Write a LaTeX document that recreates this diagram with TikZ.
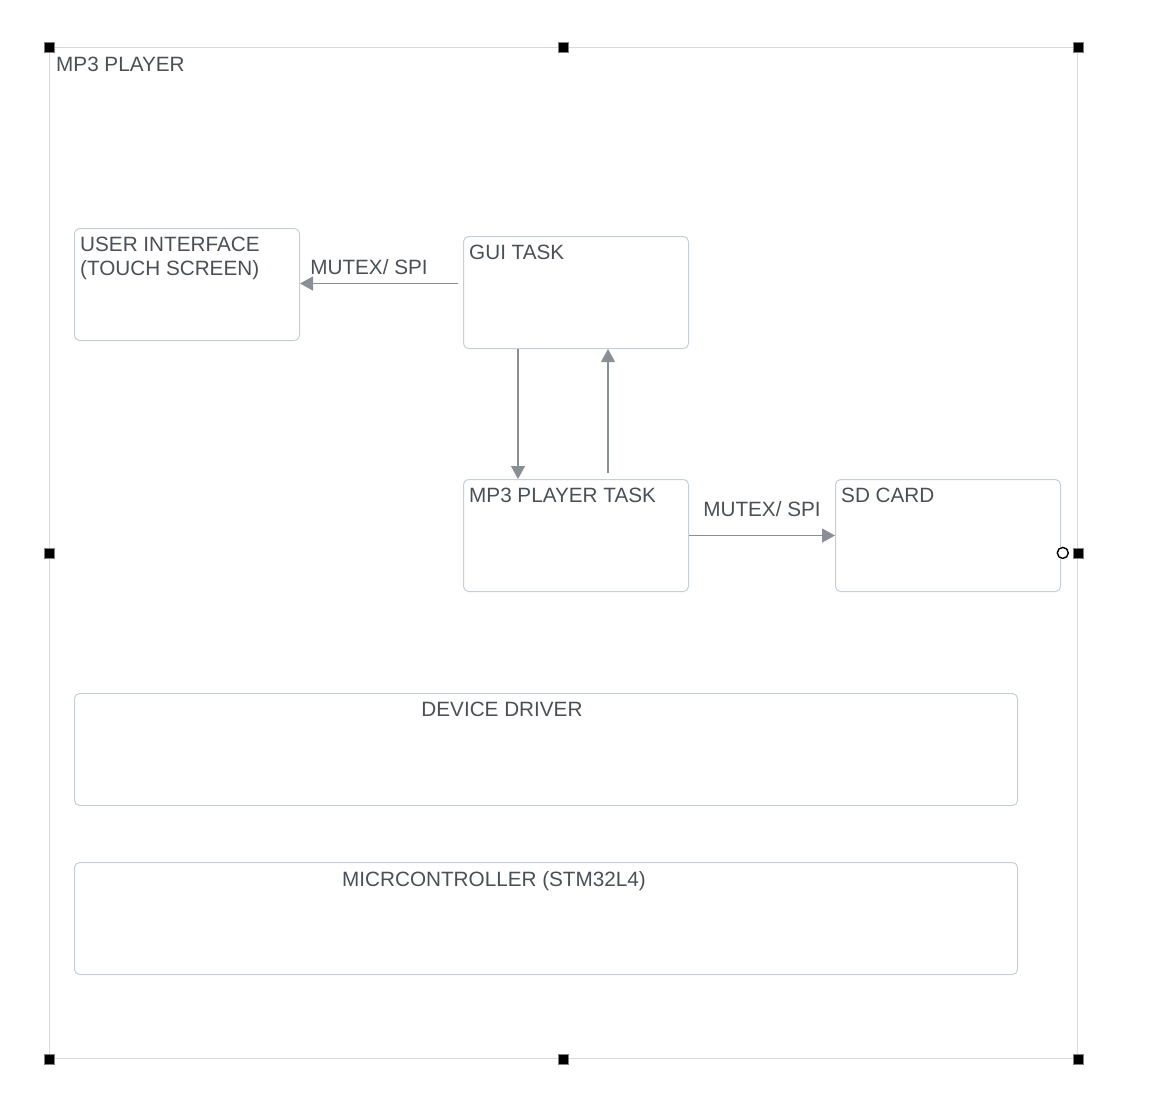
\documentclass[tikz,border=0pt]{standalone}
\usepackage{fontspec}
\setmainfont{Liberation Sans}
\usetikzlibrary{arrows.meta,positioning}
\definecolor{boxline}{HTML}{C5CFD9}
\definecolor{frameline}{HTML}{D5DAE0}
\definecolor{arrowgray}{HTML}{8A8F96}
\definecolor{txtgray}{HTML}{4B5057}

\begin{document}
\begin{tikzpicture}
[
	x=1pt, y=-1pt,
	every node/.style={font=\fontsize{20.7}{24}\selectfont, text=txtgray},
	taskbox/.style={draw=boxline, line width=1pt, rounded corners=5pt, minimum width=225pt, minimum height=112pt, inner sep=0pt, anchor=north west},
	layerbox/.style={taskbox, minimum width=943pt},
	boxtext/.style={anchor=north west, inner sep=0pt, align=left, xshift=6pt, yshift=-9pt},
	layertext/.style={anchor=north, inner sep=0pt, yshift=-9pt},
	flow/.style={draw=arrowgray, line width=1.2pt, -{Triangle[length=13pt,width=14pt]}},
	flowlabel/.style={anchor=base, inner sep=0pt},
	handle/.style={fill=black, draw=gray, line width=0.6pt, minimum size=10pt, inner sep=0pt}
]
	\useasboundingbox (0,0) rectangle (1156,1109);

	% outer frame
	\node[draw=frameline, line width=0.8pt, minimum width=1028pt, minimum height=1011pt, inner sep=0pt, anchor=north west,
		label={[anchor=north west, inner sep=0pt, xshift=7pt, yshift=-10pt]north west:MP3 PLAYER}] (frame) at (49,47) {};

	% tasks
	\node[taskbox, label={[boxtext]north west:USER INTERFACE\\(TOUCH SCREEN)}] (ui) at (74,228) {};
	\node[taskbox, label={[boxtext]north west:GUI TASK}] (gui) at (463,236) {};
	\node[taskbox, label={[boxtext]north west:MP3 PLAYER TASK}] (mp3) at (463,479) {};
	\node[taskbox, label={[boxtext]north west:SD CARD}] (sd) at (835,479) {};

	% layers
	\node[layerbox, label={[layertext, xshift=-44pt]north:DEVICE DRIVER}] (driver) at (74,693) {};
	\node[layerbox, label={[layertext, xshift=-52pt]north:MICRCONTROLLER (STM32L4)}] (mcu) at (74,862) {};

	% arrows
	\draw[flow] ([xshift=-5pt,yshift=9pt]gui.west) -- ([yshift=9pt]gui.west -| ui.east)
		node[flowlabel, midway, yshift=9pt, xshift=-10pt] {MUTEX/ SPI};
	\draw[flow] ([xshift=55pt]gui.south west) -- ([xshift=55pt]mp3.north west);
	\draw[flow] ([xshift=145pt,yshift=6pt]mp3.north west) -- ([xshift=145pt]gui.south west);
	\draw[flow] (mp3.east) -- (sd.west)
		node[flowlabel, midway, yshift=19pt] {MUTEX/ SPI};

	% selection handles
	\foreach \pos in {north west, north, north east, west, east, south west, south, south east}
		\node[handle] at (frame.\pos) {};
	\node[circle, draw=black, fill=white, line width=1.4pt, minimum size=11pt, inner sep=0pt] (grip) at ([xshift=-15pt]frame.east) {};

\end{tikzpicture}
\end{document}
